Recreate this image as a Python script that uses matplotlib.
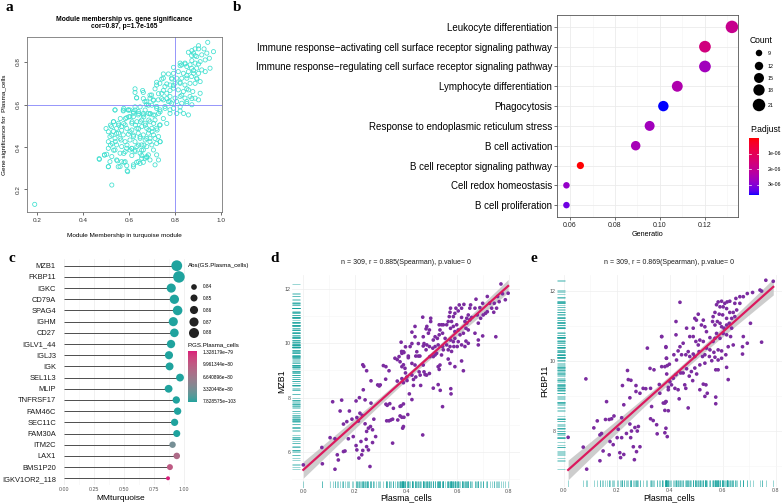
import numpy as np
import matplotlib
matplotlib.use("Agg")
import matplotlib.pyplot as plt
import matplotlib.colors as mcolors
import matplotlib.transforms as mtrans
from matplotlib.collections import LineCollection

plt.rcParams['font.family'] = ['Liberation Sans', 'DejaVu Sans']

# ---------------- DATA ----------------
# panel a : module membership vs gene significance (MM, GS)
a_points = [
(0.19,0.13),(0.525,0.221),(0.471,0.342),(0.493,0.362),(0.51,0.307),(0.549,0.335),(0.553,0.307),(0.578,0.328),
(0.592,0.288),(0.619,0.307),(0.633,0.328),(0.662,0.328),(0.677,0.351),(0.655,0.36),(0.612,0.36),(0.577,0.37),
(0.533,0.385),(0.519,0.409),(0.54,0.425),(0.565,0.433),(0.591,0.409),(0.612,0.393),(0.626,0.385),(0.641,0.409),
(0.665,0.409),(0.655,0.385),(0.691,0.425),(0.713,0.44),(0.735,0.425),(0.677,0.44),(0.648,0.448),(0.619,0.456),
(0.604,0.472),(0.568,0.479),(0.546,0.464),(0.525,0.456),(0.51,0.472),(0.519,0.503),(0.5,0.487),(0.533,0.519),
(0.555,0.503),(0.577,0.511),(0.562,0.534),(0.584,0.534),(0.599,0.542),(0.613,0.519),(0.628,0.503),(0.642,0.487),
(0.649,0.519),(0.671,0.503),(0.686,0.48),(0.7,0.472),(0.722,0.48),(0.733,0.503),(0.707,0.511),(0.686,0.527),
(0.664,0.542),(0.642,0.558),(0.619,0.566),(0.597,0.574),(0.577,0.582),(0.626,0.589),(0.648,0.589),(0.67,0.574),
(0.692,0.558),(0.713,0.55),(0.735,0.566),(0.749,0.534),(0.764,0.511),(0.778,0.558),(0.793,0.582),(0.757,0.582),
(0.72,0.582),(0.699,0.597),(0.677,0.613),(0.662,0.628),(0.633,0.631),(0.626,0.674),(0.659,0.666),(0.691,0.644),
(0.713,0.674),(0.728,0.651),(0.742,0.628),(0.749,0.666),(0.764,0.697),(0.778,0.666),(0.786,0.72),(0.771,0.744),
(0.793,0.775),(0.793,0.689),(0.764,0.628),(0.778,0.613),(0.742,0.72),(0.72,0.705),(0.749,0.744),(0.707,0.62),
(0.684,0.597),(0.822,0.783),(0.844,0.791),(0.858,0.846),(0.873,0.854),(0.887,0.862),(0.902,0.877),(0.887,0.83),
(0.873,0.807),(0.851,0.736),(0.822,0.705),(0.851,0.674),(0.829,0.644),(0.873,0.628),(0.851,0.605),(0.822,0.589),
(0.837,0.558),(0.807,0.558),(0.895,0.72),(0.88,0.76),(0.902,0.791),
(0.942,0.893),(0.967,0.849),(0.926,0.862),(0.902,0.862),(0.880,0.842),(0.872,0.831),(0.894,0.826),(0.916,0.834),
(0.938,0.842),(0.949,0.818),(0.931,0.81),(0.909,0.802),(0.887,0.795),(0.865,0.787),(0.851,0.779),(0.829,0.787),
(0.822,0.795),(0.843,0.795),(0.872,0.771),(0.894,0.771),(0.916,0.763),(0.952,0.771),(0.931,0.755),(0.902,0.747),
(0.880,0.747),(0.858,0.755),(0.836,0.747),(0.814,0.755),(0.793,0.747),(0.785,0.724),(0.807,0.724),(0.829,0.724),
(0.851,0.724),(0.872,0.732),(0.894,0.724),(0.909,0.708),(0.887,0.700),(0.865,0.700),(0.843,0.692),(0.822,0.700),
(0.800,0.700),(0.778,0.692),(0.749,0.724),(0.734,0.700),(0.720,0.692),(0.756,0.685),(0.793,0.677),(0.814,0.669),
(0.836,0.661),(0.858,0.669),(0.877,0.661),(0.909,0.653),(0.887,0.630),(0.865,0.638),(0.843,0.630),(0.822,0.638),
(0.800,0.630),(0.778,0.638),(0.764,0.653),(0.742,0.653),(0.698,0.645),(0.691,0.630),(0.669,0.614),(0.676,0.599),
(0.705,0.622),(0.727,0.622),(0.749,0.622),(0.771,0.614),(0.785,0.606),(0.807,0.614),(0.829,0.606),(0.851,0.614),
(0.873,0.599),(0.902,0.622),(0.626,0.657),(0.633,0.632),(0.662,0.657),(0.720,0.591),(0.756,0.591),(0.734,0.575),
(0.778,0.575),(0.822,0.570),(0.858,0.551),(0.539,0.575),(0.575,0.570),(0.597,0.575),(0.619,0.559),(0.641,0.567),
(0.662,0.551),(0.691,0.555),(0.604,0.543),
(0.539,0.574),(0.575,0.574),(0.604,0.574),(0.626,0.574),(0.590,0.538),(0.619,0.543),(0.640,0.551),(0.662,0.558),
(0.684,0.558),(0.706,0.551),(0.728,0.558),(0.532,0.519),(0.554,0.512),(0.583,0.504),(0.612,0.512),(0.634,0.519),
(0.655,0.527),(0.670,0.512),(0.691,0.519),(0.713,0.527),(0.735,0.504),(0.720,0.488),(0.699,0.488),(0.677,0.488),
(0.655,0.496),(0.634,0.488),(0.612,0.480),(0.590,0.488),(0.568,0.496),(0.546,0.488),(0.524,0.496),(0.532,0.473),
(0.554,0.465),(0.575,0.457),(0.597,0.460),(0.619,0.449),(0.640,0.465),(0.662,0.457),(0.684,0.465),(0.706,0.457),
(0.728,0.449),(0.691,0.441),(0.670,0.433),(0.648,0.441),(0.626,0.425),(0.604,0.433),(0.583,0.425),(0.561,0.441),
(0.539,0.441),(0.517,0.449),(0.510,0.425),(0.527,0.417),(0.546,0.410),(0.568,0.402),(0.590,0.394),(0.612,0.394),
(0.634,0.402),(0.655,0.410),(0.677,0.402),(0.699,0.410),(0.720,0.417),(0.735,0.425),(0.510,0.394),(0.539,0.386),
(0.561,0.371),(0.583,0.378),(0.604,0.386),(0.626,0.378),(0.648,0.371),(0.662,0.386),(0.684,0.363),(0.706,0.386),
(0.670,0.347),(0.640,0.331),(0.619,0.316),(0.594,0.284),(0.561,0.308),(0.568,0.331),(0.546,0.339),(0.525,0.355),
(0.503,0.366),(0.493,0.363),(0.470,0.345),(0.510,0.308),(0.517,0.331),(0.583,0.331),(0.590,0.312),(0.648,0.323),
(0.655,0.347),(0.691,0.339),(0.713,0.316),(0.677,0.355),(0.728,0.339),(0.720,0.363),
]
a_mm = [p[0] for p in a_points]
a_gs = [p[1] for p in a_points]
a_cut_mm, a_cut_gs = 0.8, 0.6

# panel b : GO enrichment dot plot
b_terms = ["Leukocyte differentiation",
           "Immune response\u2212activating cell surface receptor signaling pathway",
           "Immune response\u2212regulating cell surface receptor signaling pathway",
           "Lymphocyte differentiation", "Phagocytosis",
           "Response to endoplasmic reticulum stress", "B cell activation",
           "B cell receptor signaling pathway", "Cell redox homeostasis", "B cell proliferation"]
b_ratio = [0.1320, 0.1200, 0.1200, 0.1077, 0.1015, 0.0954, 0.0892, 0.0646, 0.0584, 0.0584]
b_count = [21, 19, 19, 17, 16, 15, 14, 10, 9, 9]
b_padj = [1.92e-6, 1.66e-6, 2.65e-6, 2.42e-6, 3.67e-6, 2.65e-6, 2.57e-6, 2e-8, 2.83e-6, 3.23e-6]
b_count_legend = [9, 12, 15, 18, 21]
b_padj_ticks = [1e-6, 2e-6, 3e-6]

# panel c : lollipop of hub genes
c_genes = ["MZB1", "FKBP11", "IGKC", "CD79A", "SPAG4", "IGHM", "CD27", "IGLV1_44", "IGLJ3", "IGK",
           "SEL1L3", "MLIP", "TNFRSF17", "FAM46C", "SEC11C", "FAM30A", "ITM2C", "LAX1", "BMS1P20",
           "IGKV1OR2_118"]
c_mm = [0.940, 0.958, 0.894, 0.920, 0.947, 0.911, 0.920, 0.892, 0.875, 0.880,
        0.967, 0.872, 0.936, 0.947, 0.922, 0.940, 0.905, 0.940, 0.883, 0.867]
c_gs = [0.890, 0.900, 0.870, 0.872, 0.875, 0.870, 0.865, 0.862, 0.860, 0.858,
        0.857, 0.857, 0.853, 0.853, 0.852, 0.850, 0.845, 0.846, 0.842, 0.830]
c_p = [7.83e-103, 1.2e-100, 3.1e-96, 5.5e-97, 2.4e-98, 6.1e-95, 1.8e-93, 4.2e-92, 9.7e-92, 2.3e-91,
       3.5e-90, 8.1e-90, 1.1e-88, 2.6e-87, 5.9e-86, 1.4e-84, 3.3e-80, 8.0e-80, 9.8e-80, 1.328179e-79]
c_size_legend = [0.84, 0.85, 0.86, 0.87, 0.88]
c_p_min, c_p_max = 7.828575e-103, 1.328179e-79
c_p_tick_labels = ["1.328179e\u221279", "9.961344e\u221280", "6.640896e\u221280", "3.320448e\u221280", "7.828575e\u2212103"]

# panel d : MZB1 vs Plasma_cells
d_points = [
(0.001,5.53),(0.124,5.37),(0.075,5.57),(0.115,7.85),(0.150,7.91),(0.144,7.51),(0.180,7.51),(0.157,7.03),
(0.170,7.12),(0.190,7.21),(0.105,6.53),(0.073,6.17),(0.124,6.49),(0.133,5.90),(0.137,5.71),(0.157,6.02),
(0.163,6.04),(0.176,6.49),(0.195,6.57),(0.206,6.24),(0.209,6.08),(0.217,5.78),(0.225,6.39),(0.232,6.06),
(0.245,6.47),(0.247,6.20),(0.254,6.08),(0.260,5.47),(0.206,7.88),(0.219,8.00),(0.234,8.29),(0.241,7.92),
(0.264,7.80),(0.232,9.21),(0.236,9.15),(0.247,8.99),(0.264,8.62),(0.209,7.27),(0.215,7.14),(0.221,7.43),
(0.230,7.35),(0.241,7.04),(0.247,6.76),(0.254,6.88),(0.262,6.94),(0.270,6.82),(0.275,7.21),(0.282,6.57),
(0.270,6.35),(0.290,8.47),(0.296,8.43),(0.300,8.47),(0.312,9.18),(0.322,9.14),(0.334,8.99),(0.321,8.68),
(0.322,7.76),(0.327,7.72),(0.337,7.78),(0.351,7.61),(0.325,7.15),(0.334,7.15),(0.341,7.18),(0.348,7.21),
(0.377,7.68),(0.381,7.70),(0.377,7.33),(0.368,7.18),(0.348,6.33),(0.357,9.45),(0.366,9.40),(0.373,9.51),
(0.383,9.70),(0.381,10.04),(0.392,9.66),(0.398,9.87),(0.409,9.53),(0.366,8.61),(0.390,9.21),(0.398,8.91),
(0.404,8.63),(0.407,7.38),(0.390,6.94),(0.392,7.28),(0.228,5.90),
(0.769,12.18),(0.797,11.84),(0.786,11.60),(0.775,11.82),(0.756,11.72),(0.762,11.53),(0.743,11.47),(0.752,11.29),
(0.741,11.14),(0.716,11.72),(0.733,11.29),(0.709,11.10),(0.698,11.47),(0.687,11.31),(0.672,11.62),(0.668,11.29),
(0.677,11.04),(0.651,11.41),(0.648,11.29),(0.642,11.04),(0.636,10.92),(0.625,11.43),(0.616,11.29),(0.607,11.41),
(0.603,11.19),(0.594,11.29),(0.590,11.10),(0.584,10.98),(0.573,11.29),(0.571,11.14),(0.568,10.98),(0.577,10.80),
(0.564,10.80),(0.558,10.68),(0.573,10.55),(0.584,10.62),(0.597,10.68),(0.590,10.43),(0.603,10.49),(0.610,10.31),
(0.623,10.37),(0.633,10.55),(0.636,10.74),(0.648,10.86),(0.655,10.95),(0.616,10.95),(0.629,10.80),(0.642,10.49),
(0.633,10.08),(0.642,10.00),(0.629,9.88),(0.616,9.94),(0.603,10.06),(0.590,10.18),(0.584,10.06),(0.573,10.12),
(0.571,9.88),(0.558,9.94),(0.564,9.76),(0.577,9.70),(0.586,9.88),(0.599,9.88),(0.552,10.18),(0.542,10.37),
(0.532,10.49),(0.529,10.68),(0.538,10.68),(0.545,10.68),(0.529,10.31),(0.522,10.18),(0.513,10.24),(0.506,10.12),
(0.491,10.49),(0.496,10.80),(0.496,10.92),(0.481,10.62),(0.478,10.53),(0.487,10.37),(0.465,10.96),(0.435,10.62),
(0.423,10.41),(0.435,10.24),(0.467,10.24),(0.470,9.99),(0.481,9.94),(0.491,9.88),(0.504,9.82),(0.513,9.88),
(0.519,9.63),(0.525,9.94),(0.542,9.88),(0.545,9.76),(0.538,9.57),(0.513,9.57),(0.506,9.51),(0.493,9.51),
(0.478,9.76),(0.467,9.90),(0.448,9.99),(0.442,9.69),(0.438,9.53),(0.448,9.53),(0.454,9.53),(0.423,9.99),
(0.416,9.88),(0.390,9.69),(0.384,9.63),(0.409,9.47),(0.423,9.26),(0.435,9.20),(0.396,9.08),(0.384,9.14),
(0.377,9.32),(0.467,9.20),(0.470,8.95),(0.474,8.85),(0.455,8.83),(0.480,8.83),(0.491,8.89),(0.451,8.95),
(0.438,8.76),(0.423,8.83),(0.403,8.76),(0.390,8.55),(0.384,8.70),(0.429,8.67),(0.457,8.45),(0.429,8.45),
(0.413,8.14),(0.525,9.14),(0.532,9.20),(0.529,9.04),(0.564,9.42),(0.571,9.26),(0.590,9.14),(0.616,9.35),
(0.623,8.99),(0.506,8.35),(0.525,8.48),(0.533,8.27),(0.574,8.33),(0.575,8.14),(0.542,7.67),(0.423,7.93),
(0.390,7.77),(0.384,7.28),(0.387,6.88),(0.465,6.63),(0.749,10.24),(0.725,11.47),(0.716,11.16),(0.700,11.04),
(0.690,10.92),(0.681,10.74),(0.698,10.27),(0.681,10.12),(0.681,9.94),(0.668,10.37),
]
d_x = [p[0] for p in d_points]
d_y = [p[1] for p in d_points]
d_fit = (5.34, 8.49)   # intercept, slope
d_title = "n = 309, r = 0.885(Spearman), p.value= 0"

# panel e : FKBP11 vs Plasma_cells
e_points = [
(0.016,7.82),(0.086,6.91),(0.073,7.54),(0.083,9.49),(0.113,8.09),(0.126,8.29),(0.136,7.89),(0.142,7.93),
(0.157,8.33),(0.161,8.84),(0.171,8.33),(0.180,8.35),(0.189,8.43),(0.174,7.70),(0.148,7.43),(0.136,7.15),
(0.171,7.32),(0.186,7.61),(0.205,8.05),(0.201,7.81),(0.218,7.81),(0.211,7.38),(0.214,7.24),(0.226,7.33),
(0.218,8.38),(0.226,8.75),(0.221,9.30),(0.240,9.73),(0.243,9.47),(0.253,9.45),(0.249,8.95),(0.236,7.93),
(0.249,8.20),(0.252,7.81),(0.255,8.00),(0.262,7.55),(0.266,7.18),(0.268,8.10),(0.277,8.00),(0.281,8.13),
(0.274,7.41),(0.287,7.55),(0.272,9.30),(0.272,9.13),(0.287,9.08),(0.299,9.22),(0.309,9.21),(0.315,10.37),
(0.325,9.79),(0.327,9.22),(0.331,8.70),(0.327,8.35),(0.337,8.30),(0.340,9.75),(0.350,8.18),(0.352,7.92),
(0.360,9.33),(0.362,9.08),(0.369,10.70),(0.375,8.80),(0.381,8.59),(0.385,10.39),(0.387,10.08),(0.390,9.87),
(0.394,9.25),(0.385,8.84),(0.385,8.08),(0.398,9.91),
(0.762,12.31),(0.790,12.28),(0.740,12.03),(0.746,12.00),(0.712,11.96),(0.692,11.93),(0.677,11.84),(0.664,11.84),
(0.649,11.79),(0.645,11.65),(0.626,11.71),(0.616,11.69),(0.607,11.65),(0.595,11.71),(0.582,11.69),(0.576,11.61),
(0.589,11.55),(0.601,11.55),(0.614,11.50),(0.626,11.39),(0.639,11.39),(0.652,11.46),(0.664,11.65),(0.645,11.27),
(0.633,11.22),(0.614,11.22),(0.599,11.32),(0.586,11.34),(0.570,11.39),(0.563,11.27),(0.561,11.13),(0.570,11.03),
(0.579,11.13),(0.589,11.08),(0.595,10.98),(0.604,10.94),(0.614,11.03),(0.624,11.08),(0.633,10.94),(0.629,10.70),
(0.614,10.75),(0.601,10.79),(0.589,10.65),(0.576,10.79),(0.570,10.65),(0.563,10.56),(0.551,10.67),(0.538,10.84),
(0.532,10.98),(0.519,11.03),(0.526,11.17),(0.507,11.34),(0.500,11.17),(0.494,11.22),(0.488,10.94),(0.463,10.94),
(0.438,11.68),(0.423,11.13),(0.423,10.75),(0.385,10.41),(0.387,10.08),(0.369,10.70),(0.475,10.70),(0.488,10.70),
(0.498,10.56),(0.507,10.46),(0.513,10.60),(0.526,10.56),(0.538,10.37),(0.551,10.32),(0.566,10.25),(0.582,10.32),
(0.595,10.29),(0.611,10.18),(0.620,10.41),(0.639,10.46),(0.674,10.41),(0.674,10.20),(0.692,10.51),(0.677,10.70),
(0.704,11.08),(0.746,10.54),(0.450,10.51),(0.438,10.41),(0.431,10.29),(0.415,10.18),(0.425,10.03),(0.444,10.18),
(0.460,10.18),(0.469,10.27),(0.475,10.13),(0.488,10.20),(0.494,10.13),(0.510,10.27),(0.523,10.13),(0.532,10.18),
(0.549,10.13),(0.558,10.01),(0.570,10.11),(0.582,10.03),(0.595,10.08),(0.582,9.75),(0.573,9.75),(0.614,9.82),
(0.620,9.47),(0.532,9.94),(0.513,9.89),(0.494,9.80),(0.481,9.70),(0.463,9.78),(0.450,9.66),(0.441,9.66),
(0.501,9.63),(0.473,9.57),(0.486,9.44),(0.456,9.32),(0.423,9.61),(0.413,9.51),(0.400,9.41),(0.381,9.84),
(0.369,9.84),(0.388,9.63),(0.406,9.32),(0.419,9.22),(0.394,9.18),(0.431,9.18),(0.460,9.22),(0.513,9.18),
(0.526,9.34),(0.536,9.32),(0.532,8.99),(0.541,9.08),(0.573,8.97),(0.573,8.78),(0.381,8.80),(0.385,8.84),
(0.394,8.58),(0.435,8.92),(0.469,8.66),(0.381,7.95),(0.390,7.84),
]
e_x = [p[0] for p in e_points]
e_y = [p[1] for p in e_points]
e_fit = (6.78, 6.76)
e_title = "n = 309, r = 0.869(Spearman), p.value= 0"

# ---------------- helpers ----------------
W, H = 784, 503
fig = plt.figure(figsize=(W / 100, H / 100), dpi=100)
fig.patch.set_facecolor('white')


def add_ax(l, t, r, b):
    return fig.add_axes([l / W, 1 - b / H, (r - l) / W, (b - t) / H])


WHITE = np.array([0.95047, 1.0, 1.08883])
MX = np.array([[0.4124564, 0.3575761, 0.1804375],
               [0.2126729, 0.7151522, 0.0721750],
               [0.0193339, 0.1191920, 0.9503041]])
MXi = np.linalg.inv(MX)


def to_lab(c):
    rgb = np.array(mcolors.to_rgb(c))
    lin = np.where(rgb <= 0.04045, rgb / 12.92, ((rgb + 0.055) / 1.055) ** 2.4)
    xyz = MX @ lin / WHITE
    f = np.where(xyz > 0.008856, np.cbrt(xyz), 7.787 * xyz + 16 / 116)
    return np.array([116 * f[1] - 16, 500 * (f[0] - f[1]), 200 * (f[1] - f[2])])


def from_lab(lab):
    L, a, b = lab
    fy = (L + 16) / 116
    f = np.array([fy + a / 500, fy, fy - b / 200])
    xyz = np.where(f ** 3 > 0.008856, f ** 3, (f - 16 / 116) / 7.787) * WHITE
    lin = np.clip(MXi @ xyz, 0, 1)
    rgb = np.where(lin <= 0.0031308, 12.92 * lin, 1.055 * lin ** (1 / 2.4) - 0.055)
    return np.clip(rgb, 0, 1)


def lab_cmap(lo, hi, n=256):
    l0, l1 = to_lab(lo), to_lab(hi)
    return mcolors.ListedColormap([from_lab(l0 + (l1 - l0) * t) for t in np.linspace(0, 1, n)])


ov = fig.add_axes([0, 0, 1, 1], zorder=10)
ov.set_xlim(0, W)
ov.set_ylim(H, 0)
ov.axis('off')

# panel letters
for lab, x, y in [('a', 9, 11), ('b', 237, 11), ('c', 12, 262), ('d', 275, 262), ('e', 534, 262)]:
    fig.text(x / W, 1 - y / H, lab, fontsize=11, fontweight='bold', family='Liberation Serif',
             ha='center', va='baseline')

# ---------------- panel a ----------------
axa = add_ax(27, 37, 222, 212)
axa.scatter(a_mm, a_gs, s=9, facecolors='none', edgecolors='#40E0D0', linewidths=0.55)
axa.axvline(a_cut_mm, color='#8585FA', lw=0.6)
axa.axhline(a_cut_gs, color='#8585FA', lw=0.6)
axa.set_xlim(0.1565, 1.004)
axa.set_ylim(0.094, 0.918)
axa.set_xticks([0.2, 0.4, 0.6, 0.8, 1.0])
axa.set_xticklabels(['0.2', '0.4', '0.6', '0.8', '1.0'])
axa.set_yticks([0.2, 0.4, 0.6, 0.8])
axa.set_yticklabels(['0.2', '0.4', '0.6', '0.8'], rotation=90, va='center')
axa.tick_params(labelsize=4.6, length=2.5, width=0.5, pad=2, colors='#333333')
for s in axa.spines.values():
    s.set_color('#777777')
    s.set_linewidth(0.6)
fig.text(124.5 / W, 1 - 19.3 / H, "Module membership vs. gene significance", fontsize=4.9,
         fontweight='bold', ha='center', va='center')
fig.text(124.5 / W, 1 - 26.8 / H, "cor=0.87, p=1.7e-165", fontsize=4.9,
         fontweight='bold', ha='center', va='center')
fig.text(124.5 / W, 1 - 235 / H, "Module Membership in turquoise module", fontsize=4.6,
         ha='center', va='center')
fig.text(5 / W, 1 - 125 / H, "Gene significance for  Plasma_cells", fontsize=4.6,
         ha='center', va='center', rotation=90)

# ---------------- panel b ----------------
axb = add_ax(557, 15, 738, 217)
cmap_b = lab_cmap('#FF0000', '#0000FF')
vmin_b, vmax_b = 0.0, 3.67e-6
norm_b = mcolors.Normalize(vmin_b, vmax_b)
nb = len(b_terms)
ypos = np.arange(nb)[::-1]


def cnt_size(c):
    d = np.sqrt(np.maximum(9.5 * np.asarray(c, float) - 43.25, 1))
    return (0.72 * d) ** 2


axb.scatter(b_ratio, ypos, s=cnt_size(b_count), c=b_padj, cmap=cmap_b, norm=norm_b,
            edgecolors='none', zorder=3)
axb.set_xlim(0.0542, 0.1347)
axb.set_ylim(-0.6, nb - 0.4)
axb.set_yticks(ypos)
axb.set_yticklabels(b_terms)
axb.set_xticks([0.06, 0.08, 0.10, 0.12])
axb.set_xticklabels(['0.06', '0.08', '0.10', '0.12'])
axb.set_xticks([0.07, 0.09, 0.11, 0.13], minor=True)
axb.tick_params(axis='y', labelsize=7, length=2, width=0.5, pad=1.5, colors='#333333', labelcolor='black')
axb.tick_params(axis='x', labelsize=5, length=2, width=0.5, pad=1.5, colors='#333333', labelcolor='#222222')
axb.tick_params(which='minor', length=0)
axb.grid(True, which='major', color='#EBEBEB', lw=0.6, zorder=0)
axb.grid(True, which='minor', axis='x', color='#F4F4F4', lw=0.4, zorder=0)
axb.set_axisbelow(True)
for s in axb.spines.values():
    s.set_color('#555555')
    s.set_linewidth(0.6)
fig.text(647.5 / W, 1 - 234 / H, "Generatio", fontsize=5.2, ha='center', va='center')

# count legend
ov.text(750, 40, "Count", fontsize=6.2, ha='left', va='center')
leg_y = [53, 66, 78, 90, 105]
ov.scatter([759] * len(b_count_legend), leg_y, s=cnt_size(b_count_legend), c='black', edgecolors='none')
for v, y in zip(b_count_legend, leg_y):
    ov.text(768, y, str(v), fontsize=3.8, ha='left', va='center')
ov.text(750, 130, "P.adjust", fontsize=6.2, ha='left', va='center')
cbb = add_ax(749, 138, 759, 195)
cbb.imshow(np.linspace(vmin_b, vmax_b, 256)[:, None], cmap=cmap_b, norm=norm_b, aspect='auto',
           extent=[0, 1, vmax_b, vmin_b])
cbb.set_ylim(vmax_b, vmin_b)
cbb.set_xticks([])
cbb.set_yticks([])
for s in cbb.spines.values():
    s.set_visible(False)
for t in b_padj_ticks:
    cbb.plot([0, 0.2], [t, t], color='white', lw=0.5)
    cbb.plot([0.8, 1], [t, t], color='white', lw=0.5)
    yy = 138 + (t - vmin_b) / (vmax_b - vmin_b) * 57
    ov.text(768, yy, "%de-06" % round(t * 1e6), fontsize=3.8, ha='left', va='center')

# ---------------- panel c ----------------
axc = add_ax(58, 259, 186, 485)
cmap_c = lab_cmap('#1FA39E', '#DA1D7A')
norm_c = mcolors.Normalize(c_p_min, c_p_max)
ng = len(c_genes)
yc = np.arange(ng)[::-1]


def gs_size(v):
    d = np.sqrt(np.maximum(1687.5 * np.asarray(v, float) - 1385, 4))
    return (0.72 * d) ** 2


axc.hlines(yc, 0, c_mm, color='#4D4D4D', lw=0.7, zorder=2)
axc.scatter(c_mm, yc, s=gs_size(c_gs), c=c_p, cmap=cmap_c, norm=norm_c, edgecolors='none', zorder=3)
axc.set_xlim(-0.05, 1.017)
axc.set_ylim(-0.6, ng - 0.4)
axc.set_yticks(yc)
axc.set_yticklabels(c_genes)
axc.set_xticks([0, 0.25, 0.5, 0.75, 1.0])
axc.set_xticklabels(['0.00', '0.25', '0.50', '0.75', '1.00'])
axc.set_xticks([0.125, 0.375, 0.625, 0.875], minor=True)
axc.tick_params(axis='y', labelsize=5.4, length=0, pad=1.5, labelcolor='#1A1A1A')
axc.tick_params(axis='x', labelsize=3.8, length=0, pad=1.5, labelcolor='#555555')
axc.tick_params(which='minor', length=0)
axc.grid(True, which='major', axis='x', color='#EBEBEB', lw=0.5, zorder=0)
axc.grid(True, which='minor', axis='x', color='#F4F4F4', lw=0.4, zorder=0)
for s in axc.spines.values():
    s.set_visible(False)
fig.text(121 / W, 1 - 498 / H, "MMturquoise", fontsize=6, ha='center', va='center')

ov.text(188, 266, "Abs(GS.Plasma_cells)", fontsize=4.4, ha='left', va='center')
cly = [287, 298, 310, 322, 333]
ov.scatter([194] * 5, cly, s=gs_size(c_size_legend), c='#222222', edgecolors='none')
for v, y in zip(c_size_legend, cly):
    ov.text(203, y, "%.2f" % v, fontsize=3.4, ha='left', va='center')
ov.text(188, 345, "P.GS.Plasma_cells", fontsize=4.4, ha='left', va='center')
cbc = add_ax(188, 351, 197, 402)
cbc.imshow(np.linspace(c_p_min, c_p_max, 256)[::-1, None], cmap=cmap_c, norm=norm_c, aspect='auto')
cbc.set_xticks([])
cbc.set_yticks([])
for s in cbc.spines.values():
    s.set_visible(False)
for i, lab in enumerate(c_p_tick_labels):
    ov.text(203, 352.5 + i * 12.3, lab, fontsize=3.4, ha='left', va='center')

# ---------------- panels d, e ----------------


def corr_panel(box, xs, ys, fit, title, ylabel, xlim, ylim, ylab_x, title_y=263):
    l, t, r, b = box
    ax = add_ax(l, t, r, b)
    xs = np.asarray(xs)
    ys = np.asarray(ys)
    a0, a1 = fit
    xx = np.linspace(xs.min(), xs.max(), 100)
    yy = a0 + a1 * xx
    res = ys - (a0 + a1 * xs)
    n = len(xs)
    s = np.sqrt(np.sum(res ** 2) / (n - 2))
    sxx = np.sum((xs - xs.mean()) ** 2)
    se = s * np.sqrt(1 / n + (xx - xs.mean()) ** 2 / sxx)
    ax.fill_between(xx, yy - 1.97 * se, yy + 1.97 * se, color='#BDBDBD', alpha=0.75, lw=0, zorder=2)
    ax.scatter(xs, ys, s=7, color='#7B2CA0', edgecolors='none', zorder=3)
    ax.plot(xx, yy, color='#DC1A5E', lw=1.6, zorder=4)
    tl = mtrans.blended_transform_factory(ax.transAxes, ax.transData)
    tb = mtrans.blended_transform_factory(ax.transData, ax.transAxes)
    ax.add_collection(LineCollection([[(0.0, y), (0.034, y)] for y in ys], transform=tl,
                                     colors='#12A09B', alpha=0.5, lw=0.6))
    ax.add_collection(LineCollection([[(x, 0.0), (x, 0.031)] for x in xs], transform=tb,
                                     colors='#12A09B', alpha=0.5, lw=0.6))
    ax.set_xlim(*xlim)
    ax.set_ylim(*ylim)
    ax.set_xticks([0.0, 0.2, 0.4, 0.6, 0.8])
    ax.set_xticklabels(['0.0', '0.2', '0.4', '0.6', '0.8'])
    ax.set_xticks(np.arange(0.1, 0.81, 0.2), minor=True)
    yt = [v for v in [6, 8, 10, 12] if ylim[0] < v < ylim[1]]
    ax.set_yticks(yt)
    ax.set_yticklabels([str(v) for v in yt])
    ax.set_yticks([v for v in [5, 7, 9, 11] if ylim[0] < v < ylim[1]], minor=True)
    ax.tick_params(which='both', length=0)
    ax.tick_params(labelsize=3.8, labelcolor='#4D4D4D', pad=1)
    ax.grid(True, which='major', color='#EEEEEE', lw=0.5, zorder=0)
    ax.grid(True, which='minor', color='#F5F5F5', lw=0.4, zorder=0)
    ax.set_axisbelow(True)
    for sp in ax.spines.values():
        sp.set_visible(False)
    cx = (l + r) / 2
    fig.text(cx / W, 1 - title_y / H, title, fontsize=5, ha='center', va='center', color='#1A1A1A')
    fig.text(cx / W, 1 - 498 / H, "Plasma_cells", fontsize=6.3, ha='center', va='center')
    fig.text(ylab_x / W, 1 - ((t + b) / 2) / H, ylabel, fontsize=6.3, ha='center', va='center',
             rotation=90)
    return ax


corr_panel((292, 275, 520, 488), d_x, d_y, d_fit, d_title, "MZB1",
           (-0.043, 0.843), (4.68, 12.51), 282)
corr_panel((557, 275, 782, 487), e_x, e_y, e_fit, e_title, "FKBP11",
           (-0.026, 0.823), (6.4, 12.46), 545)

fig.savefig("out.png", dpi=100, facecolor='white')
